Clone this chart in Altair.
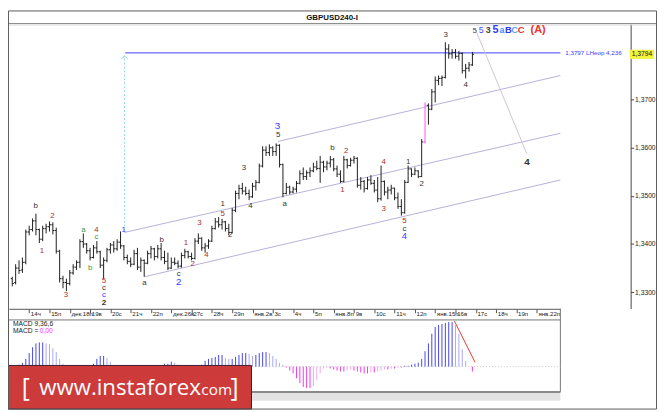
import altair as alt
import pandas as pd

# ---- 4h price bars, bar index -5 .. 131 (6 bars per trading day) ----
FIRST_BAR = -5
opens = [
    1.3328, 1.3320, 1.3350, 1.3346, 1.3362,
    1.3425, 1.3430, 1.3448, 1.3430, 1.3410, 1.3432,
    1.3436, 1.3440, 1.3428, 1.3385, 1.3328, 1.3320,
    1.3318, 1.3340, 1.3352, 1.3362, 1.3405, 1.3400,
    1.3386, 1.3372, 1.3392, 1.3384, 1.3356, 1.3366,
    1.3388, 1.3398, 1.3390, 1.3404, 1.3396, 1.3372,
    1.3364, 1.3358, 1.3380, 1.3352, 1.3366, 1.3360,
    1.3380, 1.3390, 1.3374, 1.3390, 1.3372, 1.3364,
    1.3350, 1.3362, 1.3360, 1.3354, 1.3376, 1.3384,
    1.3374, 1.3370, 1.3406, 1.3412, 1.3392, 1.3396,
    1.3406, 1.3432, 1.3446, 1.3440, 1.3446, 1.3432,
    1.3424, 1.3470, 1.3505, 1.3515, 1.3510, 1.3505,
    1.3498, 1.3520, 1.3528, 1.3562, 1.3595, 1.3590,
    1.3600, 1.3592, 1.3605, 1.3565, 1.3505, 1.3518,
    1.3508, 1.3514, 1.3526, 1.3546, 1.3540, 1.3548,
    1.3552, 1.3560, 1.3557, 1.3570, 1.3560, 1.3568,
    1.3575, 1.3556, 1.3545, 1.3530, 1.3575, 1.3563,
    1.3574, 1.3578, 1.3522, 1.3530, 1.3515, 1.3533,
    1.3526, 1.3512, 1.3494, 1.3530, 1.3508, 1.3512,
    1.3516, 1.3496, 1.3478, 1.3465, 1.3528, 1.3556,
    1.3545, 1.3552, 1.3540, 1.3612, 1.3688, 1.3680,
    1.3716, 1.3740, 1.3744, 1.3746, 1.3805, 1.3795,
    1.3798, 1.3790, 1.3796, 1.3760, 1.3765, 1.3772,
]
highs = [
    1.3332, 1.3358, 1.3366, 1.3372, 1.3430,
    1.3438, 1.3453, 1.3463, 1.3432, 1.3438, 1.3442,
    1.3447, 1.3445, 1.3434, 1.3388, 1.3334, 1.3328,
    1.3346, 1.3358, 1.3366, 1.3410, 1.3422, 1.3402,
    1.3392, 1.3398, 1.3406, 1.3386, 1.3372, 1.3392,
    1.3402, 1.3406, 1.3410, 1.3426, 1.3398, 1.3378,
    1.3372, 1.3388, 1.3392, 1.3372, 1.3368, 1.3386,
    1.3396, 1.3392, 1.3398, 1.3402, 1.3386, 1.3382,
    1.3372, 1.3372, 1.3366, 1.3382, 1.3390, 1.3386,
    1.3382, 1.3412, 1.3422, 1.3414, 1.3402, 1.3410,
    1.3438, 1.3454, 1.3456, 1.3452, 1.3448, 1.3442,
    1.3475, 1.3511, 1.3523, 1.3527, 1.3519, 1.3513,
    1.3527, 1.3533, 1.3567, 1.3603, 1.3603, 1.3607,
    1.3603, 1.3609, 1.3607, 1.3567, 1.3527, 1.3521,
    1.3519, 1.3531, 1.3553, 1.3559, 1.3553, 1.3559,
    1.3569, 1.3573, 1.3583, 1.3573, 1.3573, 1.3583,
    1.3579, 1.3563, 1.3553, 1.3583, 1.3577, 1.3579,
    1.3583, 1.3580, 1.3539, 1.3533, 1.3539, 1.3543,
    1.3533, 1.3539, 1.3563, 1.3532, 1.3519, 1.3523,
    1.3517, 1.3507, 1.3493, 1.3533, 1.3563, 1.3557,
    1.3559, 1.3553, 1.3618, 1.3694, 1.3692, 1.3722,
    1.3748, 1.3750, 1.3750, 1.3819, 1.3815, 1.3805,
    1.3805, 1.3801, 1.3798, 1.3774, 1.3778, 1.3799,
]
lows = [
    1.3312, 1.3316, 1.3338, 1.3340, 1.3358,
    1.3418, 1.3426, 1.3418, 1.3402, 1.3406, 1.3422,
    1.3426, 1.3420, 1.3380, 1.3320, 1.3308, 1.3302,
    1.3314, 1.3336, 1.3346, 1.3350, 1.3392, 1.3380,
    1.3366, 1.3370, 1.3380, 1.3350, 1.3328, 1.3362,
    1.3380, 1.3382, 1.3386, 1.3390, 1.3366, 1.3358,
    1.3352, 1.3356, 1.3346, 1.3342, 1.3332, 1.3358,
    1.3370, 1.3366, 1.3370, 1.3366, 1.3358, 1.3346,
    1.3348, 1.3356, 1.3350, 1.3351, 1.3370, 1.3370,
    1.3366, 1.3368, 1.3400, 1.3386, 1.3382, 1.3390,
    1.3404, 1.3430, 1.3434, 1.3430, 1.3426, 1.3418,
    1.3422, 1.3466, 1.3493, 1.3503, 1.3501, 1.3491,
    1.3496, 1.3511, 1.3526, 1.3559, 1.3583, 1.3583,
    1.3583, 1.3583, 1.3559, 1.3497, 1.3503, 1.3503,
    1.3505, 1.3507, 1.3524, 1.3533, 1.3533, 1.3539,
    1.3549, 1.3553, 1.3527, 1.3549, 1.3553, 1.3559,
    1.3551, 1.3539, 1.3527, 1.3528, 1.3557, 1.3561,
    1.3567, 1.3517, 1.3513, 1.3507, 1.3513, 1.3523,
    1.3507, 1.3487, 1.3490, 1.3501, 1.3493, 1.3503,
    1.3491, 1.3473, 1.3459, 1.3463, 1.3527, 1.3539,
    1.3543, 1.3537, 1.3539, 1.3609, 1.3648, 1.3678,
    1.3694, 1.3730, 1.3728, 1.3744, 1.3785, 1.3785,
    1.3785, 1.3781, 1.3754, 1.3744, 1.3758, 1.3770,
]
closes = [
    1.3318, 1.3350, 1.3345, 1.3362, 1.3425,
    1.3430, 1.3448, 1.3430, 1.3410, 1.3432, 1.3436,
    1.3440, 1.3428, 1.3385, 1.3328, 1.3320, 1.3318,
    1.3340, 1.3352, 1.3362, 1.3405, 1.3400, 1.3386,
    1.3372, 1.3392, 1.3384, 1.3356, 1.3366, 1.3388,
    1.3398, 1.3390, 1.3404, 1.3396, 1.3372, 1.3364,
    1.3358, 1.3380, 1.3352, 1.3366, 1.3360, 1.3380,
    1.3390, 1.3374, 1.3390, 1.3372, 1.3364, 1.3350,
    1.3362, 1.3360, 1.3354, 1.3376, 1.3384, 1.3374,
    1.3370, 1.3406, 1.3412, 1.3392, 1.3396, 1.3406,
    1.3432, 1.3446, 1.3440, 1.3446, 1.3432, 1.3424,
    1.3470, 1.3505, 1.3515, 1.3510, 1.3505, 1.3498,
    1.3520, 1.3528, 1.3562, 1.3595, 1.3590, 1.3600,
    1.3592, 1.3605, 1.3565, 1.3505, 1.3518, 1.3508,
    1.3514, 1.3526, 1.3546, 1.3540, 1.3548, 1.3552,
    1.3560, 1.3557, 1.3570, 1.3560, 1.3568, 1.3575,
    1.3556, 1.3545, 1.3530, 1.3575, 1.3563, 1.3574,
    1.3578, 1.3522, 1.3530, 1.3515, 1.3533, 1.3526,
    1.3512, 1.3494, 1.3530, 1.3508, 1.3512, 1.3516,
    1.3496, 1.3478, 1.3465, 1.3528, 1.3556, 1.3545,
    1.3552, 1.3540, 1.3612, 1.3688, 1.3680, 1.3716,
    1.3740, 1.3744, 1.3746, 1.3805, 1.3795, 1.3798,
    1.3790, 1.3796, 1.3760, 1.3765, 1.3772, 1.3794,
]
pink_bars = [117]

# MACD(9,36,6) histogram, same bar index
macd = [
    0.0001, 0.0001,
    0.0002, 0.0004, 0.0008, 0.0014, 0.0020, 0.0024, 0.0025, 0.0025, 0.0024, 0.0023, 0.0019, 0.0015, 0.0008,
    0.0003, 0.0001, 0, 0, 0, 0, 0, 0, 0,
    0.0003, 0.0008, 0.0011, 0.0011, 0.0009, 0.0005, 0.0001,
    0, 0, 0, 0, 0, 0, 0, 0, 0, 0, 0, 0, 0,
    0.0001, 0.0003, 0.0003, 0.0005, 0.0004, 0.0002, 0,
    0, 0, 0, 0,
    0.0001, 0.0002, 0.0006, 0.0008, 0.0009, 0.0010, 0.0012, 0.0012, 0.0009, 0.0008, 0.0008, 0.0010, 0.0012,
    0.0014, 0.0014, 0.0013, 0.0011, 0.0012, 0.0014, 0.0015, 0.0015, 0.0014, 0.0011, 0.0008, 0.0004, 0.0002,
    -0.0001, -0.0004, -0.0007, -0.0012, -0.0017, -0.0021, -0.0022, -0.0022, -0.0020, -0.0014, -0.0007, -0.0002,
    -0.0001, -0.0002, -0.0003, -0.0004, -0.0005, -0.0005, -0.0004, -0.0003, -0.0004, -0.0005, -0.0006, -0.0007,
    -0.0007, -0.0006, -0.0006, -0.0005, -0.0004, -0.0003, -0.0003, -0.0002, -0.0002, -0.0001, -0.0001,
    0.0001, 0.0001, 0.0002, 0.0003, 0.0004, 0.0008, 0.0016, 0.0024, 0.0034, 0.0041, 0.0043, 0.0044, 0.0045,
    0.0046, 0.0046, 0.0043, 0.0034, 0.0018, 0.0006, 0.0000, -0.0005,
]
macd_line_bar = [125.7, 131.8]
macd_line_val = [0.0047, 0.00044]

day_labels = ["14ч", "15п", "дек.18п", "19в", "20с", "21ч", "22п", "дек.26в", "27с", "28ч", "29п",
              "янв.2в", "3с", "4ч", "5п", "янв.8п", "9в", "10с", "11ч", "12п", "янв.15п", "16в",
              "17с", "18ч", "19п", "янв.22п"]
price_ticks = [1.33, 1.34, 1.35, 1.36, 1.37]

# wave marks
K, R, G, B = "#333333", "#a83232", "#3c9a3c", "#3a3aff"
wave_text = ["b", "2", "1", "3", "a", "4", "c", "b", "5", "c", "c", "2", "1", "a", "b", "c", "2",
             "1", "2", "3", "4", "1", "5", "2", "3", "4", "5", "3", "a", "b", "2", "1", "4", "3",
             "5", "c", "4", "1", "2", "3", "4", "4",
             "5", "5", "3", "5", "a", "B", "C", "C", "(A)"]
wave_bar = [1.9, 6.9, 3.8, 10.9, 16.0, 19.9, 19.9, 18.0, 22.1, 22.1, 22.1, 22.1, 27.9, 34.1, 39.2, 44.2, 44.2,
            46.3, 48.3, 50.3, 52.4, 57.2, 57.2, 59.4, 63.5, 65.4, 73.6, 73.4, 75.5, 89.6, 93.7, 92.6, 104.8, 104.8,
            110.9, 110.9, 110.9, 112.0, 116.0, 123.1, 129.0, 147.1,
            131.7, 133.6, 135.7, 137.8, 139.7, 141.6, 143.5, 145.4, 150.4]
wave_price = [1.3479, 1.3459, 1.3386, 1.3295, 1.3429, 1.3430, 1.3415, 1.3350, 1.3323, 1.3308, 1.3293, 1.3278,
              1.3429, 1.3318, 1.3409, 1.3337, 1.3320, 1.3401, 1.3359, 1.3444, 1.3377, 1.3484, 1.3463, 1.3418,
              1.3557, 1.3478, 1.3627, 1.3646, 1.3483, 1.3600, 1.3593, 1.3513, 1.3570, 1.3473, 1.3447, 1.3431,
              1.3416, 1.3570, 1.3524, 1.3835, 1.3730, 1.3571,
              1.3843, 1.3845, 1.3845, 1.3845, 1.3845, 1.3845, 1.3845, 1.3845, 1.3845]
wave_color = [K, R, R, R, G, R, G, G, R, K, B, K, B, K, K, K, B,
              R, R, R, R, K, R, K, K, K, K, B, K, K, R, R, R, R,
              R, K, B, K, K, K, K, K,
              "#555555", "#4848ff", "#444444", "#3a3aff", "#3f8fff", "#3333ee", "#5f9fff", "#ee3030", "#ee3030"]
wave_size = [8] * 16 + [10] + [8] * 10 + [10] + [8] * 8 + [9.5] + [8] * 4 + [10] + \
            [8, 9, 9, 11, 9, 9.5, 9.5, 9.5, 11]
wave_bold = [0] * 11 + [1] + [0] * 29 + [1] + [0, 0, 1, 1, 1, 1, 1, 1, 1]

# channel lines, target line and projection line: (bar0, price0) -> (bar1, price1)
line_b0 = [73.55, 28.15, 34.1, 28.4, 131.7]
line_p0 = [1.3613, 1.3424, 1.3332, 1.3797, 1.3849]
line_b1 = [157.0, 157.0, 157.0, 157.0, 147.1]
line_p1 = [1.3750, 1.3630, 1.3533, 1.3797, 1.3587]
line_color = ["#b8b0d8", "#b8b0d8", "#b8b0d8", "#3c3cff", "#cfc6cf"]

arrow_bar, arrow_from, arrow_to = 28.2, 1.3428, 1.3791
target_price, target_text = 1.3797, "1,3797 LHeop 4,236"
last_price = 1.3794

# ---- layout (reference pixels squeezed into the visible page area) ----
W, H = 657, 404
SX, SY = W / 665, H / 412
FONT = "Liberation Sans"


def px(x):
    return round(x * SX, 2)


def py(y):
    return round(y * SY, 2)


X_SCALE = alt.Scale(domain=[-6, 157], range=[px(0.9), px(566.0)], nice=False, zero=False)
P_SCALE = alt.Scale(domain=[1.3266, 1.3857], range=[py(307.7), py(13.97)], nice=False, zero=False)
M_SCALE = alt.Scale(domain=[-0.0026, 0.0049], range=[py(393.7), py(318.7)], nice=False, zero=False)

label_js = "[" + ",".join(f"'{s}'" for s in day_labels) + "]"
X_AXIS = alt.Axis(
    values=[6 * i for i in range(len(day_labels))], labelExpr=f"{label_js}[round(datum.value / 6)]",
    orient="bottom", offset=py(308) - H, title=None, grid=False, domainColor="#555", tickColor="#555",
    tickSize=4, labelAlign="left", labelBaseline="top", labelOffset=1.2, labelPadding=-2.5, labelFont=FONT,
    labelFontSize=6.2, labelColor="#222", labelOverlap=False, labelFlush=False,
)
P_AXIS = alt.Axis(
    values=price_ticks, labelExpr="replace(format(datum.value, '.4f'), '.', ',')", orient="right",
    offset=px(638) - W, title=None, grid=False, domainColor="#444", tickColor="#444", tickSize=3,
    labelPadding=1, labelFont=FONT, labelFontSize=6.8, labelColor="#222", labelOverlap=False, labelFlush=False,
)


def xq(field, axis=True):
    return alt.X(f"{field}:Q", scale=X_SCALE, axis=X_AXIS if axis else None)


def yp(field):
    return alt.Y(f"{field}:Q", scale=P_SCALE, axis=P_AXIS)


def ym(field):
    return alt.Y(f"{field}:Q", scale=M_SCALE, axis=None)


RAW = alt.Color("col:N", scale=None)

# ---- price panel ----
bar_idx = list(range(FIRST_BAR, FIRST_BAR + len(closes)))
bars = pd.DataFrame({"b": bar_idx, "o": opens, "h": highs, "l": lows, "c": closes})
bars["col"] = ["#ff4dff" if b in pink_bars else "#1e1e1e" for b in bar_idx]
base = alt.Chart(bars)
hl = base.mark_rule(strokeWidth=1).encode(x=xq("b"), y=yp("l"), y2="h:Q", color=RAW)
open_tick = base.transform_calculate(bl="datum.b - 0.45").mark_rule(strokeWidth=1).encode(
    x=xq("bl"), x2="b:Q", y=yp("o"), color=RAW)
close_tick = base.transform_calculate(br="datum.b + 0.45").mark_rule(strokeWidth=1).encode(
    x=xq("b"), x2="br:Q", y=yp("c"), color=RAW)

lines_df = pd.DataFrame({"b0": line_b0, "p0": line_p0, "b1": line_b1, "p1": line_p1, "col": line_color})
lines = alt.Chart(lines_df).mark_rule(strokeWidth=1).encode(
    x=xq("b0"), x2="b1:Q", y=yp("p0"), y2="p1:Q", color=RAW)

arrow_df = pd.DataFrame({"b": [arrow_bar], "p0": [arrow_from], "p1": [arrow_to]})
vline = alt.Chart(arrow_df).mark_rule(strokeDash=[2, 2], color="#8fd3e8", strokeWidth=1).encode(
    x=xq("b"), y=yp("p0"), y2="p1:Q")
arrow = alt.Chart(arrow_df).mark_point(
    shape="M -1 1 L 0 0 L 1 1", filled=False, size=40, color="#8fd3e8", strokeWidth=1, opacity=1
).encode(x=xq("b"), y=yp("p1"))

waves = pd.DataFrame({"t": wave_text, "b": wave_bar, "p": wave_price, "col": wave_color,
                      "fs": wave_size, "w": wave_bold})


def wave_layer(bold):
    return alt.Chart(waves).transform_filter(f"datum.w == {bold}").mark_text(
        font=FONT, fontWeight="bold" if bold else "normal", align="center", baseline="middle"
    ).encode(x=xq("b"), y=yp("p"), text="t:N", color=RAW, size=alt.Size("fs:Q", scale=None))


target = alt.Chart(pd.DataFrame({"b": [157], "p": [target_price], "t": [target_text]})).mark_text(
    align="left", baseline="middle", dx=px(5), font=FONT, fontSize=6.3, color="#3c3cff"
).encode(x=xq("b"), y=yp("p"), text="t:N")

last_df = pd.DataFrame({"p": [last_price]})
last_box = alt.Chart(last_df).transform_calculate(
    p0="datum.p - 0.00095", p1="datum.p + 0.00095"
).mark_rect(color="#f3f33c").encode(x=alt.value(px(637)), x2=alt.value(px(662)), y=yp("p0"), y2="p1:Q")
last_txt = alt.Chart(last_df).transform_calculate(
    t="replace(format(datum.p, '.4f'), '.', ',')"
).mark_text(font=FONT, fontSize=6.8, color="#111", align="center", baseline="middle").encode(
    x=alt.value(px(649.5)), y=yp("p"), text="t:N")

price = alt.layer(lines, vline, arrow, hl, open_tick, close_tick, wave_layer(0), wave_layer(1),
                  target, last_box, last_txt)

# ---- MACD panel ----
hist_df = pd.DataFrame({"b": bar_idx, "m": macd})
prev = hist_df["m"].shift(1).fillna(0)
hist_df["col"] = [
    ("#4646ee" if m >= p else "#a9a9f2") if m >= 0 else ("#ee3cee" if m <= p else "#f2a6f2")
    for m, p in zip(hist_df["m"], prev)
]
hist = alt.Chart(hist_df).transform_calculate(z="0").mark_rule(strokeWidth=1).encode(
    x=xq("b", False), y=ym("m"), y2="z:Q", color=RAW)
zero = alt.Chart(pd.DataFrame({"b0": [-6], "b1": [157], "m": [0.0]})).mark_rule(
    color="#c4c4c4", strokeDash=[1, 2]).encode(x=xq("b0", False), x2="b1:Q", y=ym("m"))
red = alt.Chart(pd.DataFrame({"b0": [macd_line_bar[0]], "b1": [macd_line_bar[1]],
                              "m0": [macd_line_val[0]], "m1": [macd_line_val[1]]})).mark_rule(
    color="#e8392f", strokeWidth=1).encode(x=xq("b0", False), x2="b1:Q", y=ym("m0"), y2="m1:Q")
macd_panel = alt.layer(zero, hist, red)

# ---- frame, title, banner ----
ONE = alt.Data(values=[{"k": 0}])


def deco_rect(x0, y0, x1, y1, **kw):
    return alt.Chart(ONE).mark_rect(**kw).encode(
        x=alt.value(px(x0)), x2=alt.value(px(x1)), y=alt.value(py(y0)), y2=alt.value(py(y1)))


def deco_rule(x0, y0, x1, y1, **kw):
    return alt.Chart(ONE).mark_rule(**kw).encode(
        x=alt.value(px(x0)), x2=alt.value(px(x1)), y=alt.value(py(y0)), y2=alt.value(py(y1)))


def deco_text(x, y, text, **kw):
    return alt.Chart(ONE).mark_text(text=text, **kw).encode(x=alt.value(px(x)), y=alt.value(py(y)))


decor_back = [
    deco_rule(0, 13.5, 665, 13.5, color="#8a8a8a", strokeWidth=1),
    deco_rule(0, 15, 665, 15, color="#d5d5d5", strokeWidth=1),
    deco_text(332, 7.5, "GBPUSD240-I", font=FONT, fontSize=8, fontWeight="bold", color="#111",
              align="center", baseline="middle"),
    deco_rect(0.5, 319.5, 566, 393.5, fillOpacity=0, stroke="#777", strokeWidth=1),
    deco_rule(566, 308, 566, 319.5, color="#777", strokeWidth=1),
    deco_rect(1, 394, 566, 403, color="#e3e3e3"),
    deco_rule(1, 394, 566, 394, color="#8a8a8a", strokeWidth=2),
    deco_text(5, 323.6, "MACD 9,36,6", font=FONT, fontSize=6.8, color="#222", align="left",
              baseline="middle"),
    deco_text(5, 331.4, "MACD =", font=FONT, fontSize=6.8, color="#222", align="left", baseline="middle"),
    deco_text(32.5, 331.4, "0,00", font=FONT, fontSize=6.8, color="#ff33ff", align="left", baseline="middle"),
]
BANNER_FONT = "Open Sans"
decor_front = [
    deco_rect(0, 366.5, 249.5, 411.5, color="#cd3a3a", stroke="#3a2035", strokeWidth=1),
    deco_text(14, 398, "[", font=BANNER_FONT, fontSize=25, color="white", align="left",
              baseline="alphabetic"),
    deco_text(32, 397.5, "www.instaforex", font=BANNER_FONT, fontSize=22.5, color="white",
              align="left", baseline="alphabetic"),
    deco_text(194, 397.5, ".com", font=BANNER_FONT, fontSize=15.5, color="white", align="left",
              baseline="alphabetic"),
    deco_text(228, 398, "]", font=BANNER_FONT, fontSize=25, color="white", align="left",
              baseline="alphabetic"),
    deco_rect(0.5, 0.5, 664.5, 411.5, fillOpacity=0, stroke="#5a5a5a", strokeWidth=1),
]

chart = alt.layer(*decor_back, price, macd_panel, *decor_front).resolve_scale(
    x="independent", y="independent"
).properties(
    width=W, height=H, padding=0, autosize=alt.AutoSizeParams(type="none"), background="white"
).configure_view(stroke=None)

chart.save("out.html", embed_options={"renderer": "svg", "actions": False})
